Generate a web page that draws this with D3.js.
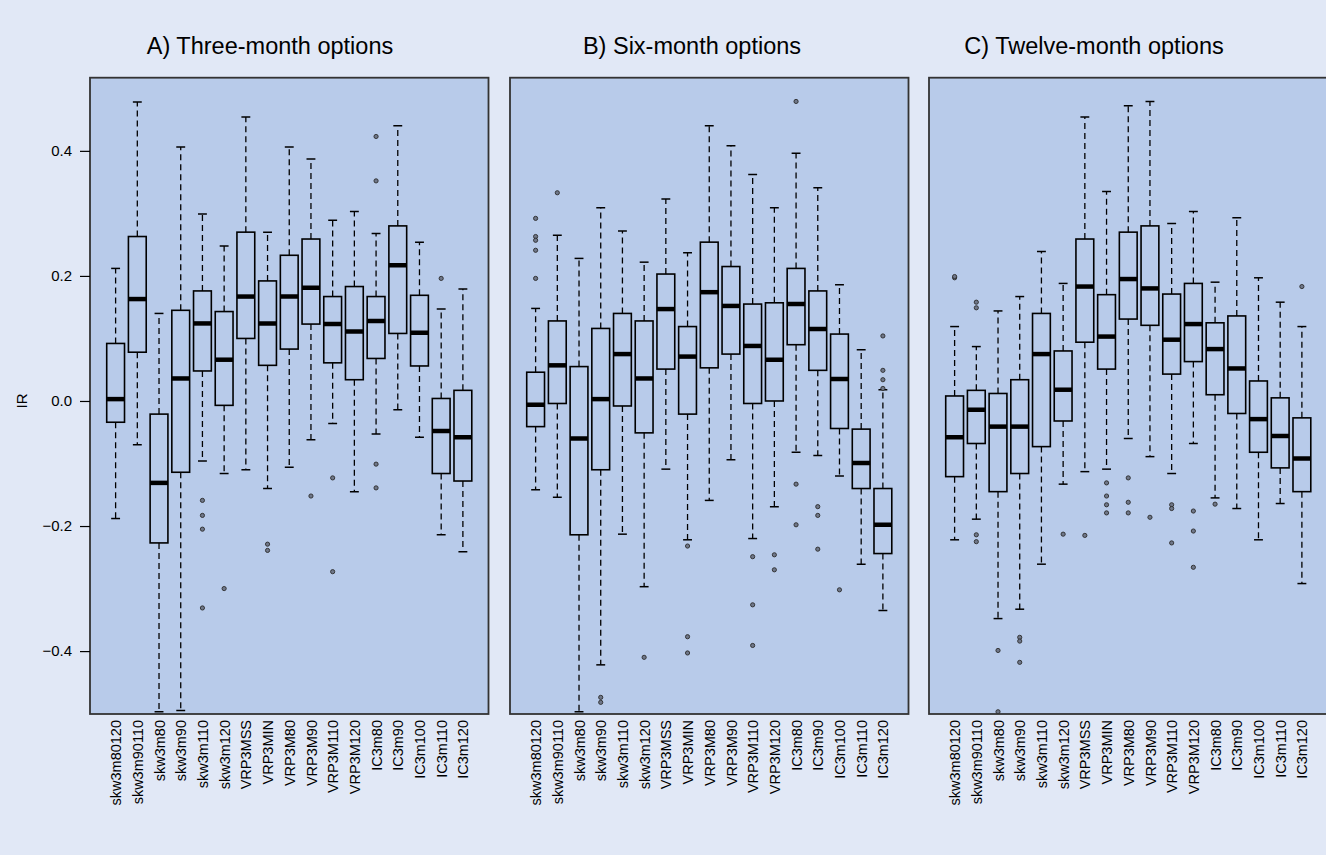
<!DOCTYPE html>
<html>
<head>
<meta charset="utf-8">
<script src="https://cdn.jsdelivr.net/npm/d3@7"></script>
<style>
  html, body { margin: 0; padding: 0; background: #e1e8f6; }
  svg { display: block; }
  text { font-family: "Liberation Sans", Arial, Helvetica, sans-serif; fill: #000; }
</style>
</head>
<body>
<svg id="chart" width="1326" height="855"></svg>
<script>
// Strategy categories shared by all three panels
const categories = ["skw3m80120","skw3m90110","skw3m80","skw3m90","skw3m110","skw3m120",
  "VRP3MSS","VRP3MIN","VRP3M80","VRP3M90","VRP3M110","VRP3M120",
  "IC3m80","IC3m90","IC3m100","IC3m110","IC3m120"];

const panelTitles = ["A) Three-month options", "B) Six-month options", "C) Twelve-month options"];
const yTicks = [-0.4, -0.2, 0.0, 0.2, 0.4];

// Five-number summaries per category: [lower whisker, Q1, median, Q3, upper whisker]
const statsThree = [
  [-0.188, -0.034,  0.003,  0.092, 0.212],
  [-0.070,  0.078,  0.163,  0.263, 0.478],
  [-0.497, -0.227, -0.131, -0.021, 0.140],
  [-0.495, -0.114,  0.036,  0.145, 0.406],
  [-0.096,  0.048,  0.124,  0.176, 0.299],
  [-0.116, -0.007,  0.066,  0.143, 0.248],
  [-0.110,  0.100,  0.167,  0.270, 0.454],
  [-0.140,  0.057,  0.124,  0.192, 0.270],
  [-0.106,  0.083,  0.167,  0.233, 0.406],
  [-0.062,  0.123,  0.181,  0.259, 0.387],
  [-0.036,  0.061,  0.123,  0.167, 0.289],
  [-0.145,  0.034,  0.111,  0.183, 0.303],
  [-0.053,  0.068,  0.128,  0.167, 0.268],
  [-0.014,  0.108,  0.217,  0.280, 0.440],
  [-0.058,  0.056,  0.109,  0.169, 0.254],
  [-0.214, -0.116, -0.048,  0.004, 0.147],
  [-0.241, -0.128, -0.058,  0.017, 0.179]
];
const outliersThree = [
  [], [], [], [],
  [-0.159, -0.183, -0.205, -0.331],
  [-0.300],
  [],
  [-0.229, -0.239],
  [],
  [-0.152],
  [-0.123, -0.273],
  [],
  [0.423, 0.352, -0.101, -0.139],
  [], [],
  [0.196],
  []
];

const statsSix = [
  [-0.142, -0.041, -0.006,  0.046, 0.148],
  [-0.154, -0.004,  0.057,  0.128, 0.265],
  [-0.497, -0.214, -0.060,  0.055, 0.228],
  [-0.422, -0.110,  0.003,  0.116, 0.309],
  [-0.213, -0.008,  0.075,  0.140, 0.272],
  [-0.297, -0.051,  0.036,  0.128, 0.222],
  [-0.109,  0.051,  0.147,  0.203, 0.323],
  [-0.222, -0.021,  0.071,  0.119, 0.237],
  [-0.159,  0.053,  0.174,  0.254, 0.440],
  [-0.094,  0.075,  0.152,  0.215, 0.408],
  [-0.220, -0.004,  0.088,  0.155, 0.362],
  [-0.169,  0.000,  0.066,  0.157, 0.309],
  [-0.082,  0.090,  0.155,  0.212, 0.396],
  [-0.087,  0.049,  0.115,  0.176, 0.341],
  [-0.120, -0.044,  0.035,  0.107, 0.186],
  [-0.261, -0.140, -0.099, -0.045, 0.082],
  [-0.335, -0.244, -0.198, -0.140, 0.018]
];
const outliersSix = [
  [0.292, 0.263, 0.257, 0.241, 0.196],
  [0.333],
  [],
  [-0.474, -0.482],
  [],
  [-0.410],
  [],
  [-0.232, -0.377, -0.403],
  [],
  [],
  [-0.249, -0.326, -0.391],
  [-0.246, -0.270],
  [0.479, -0.133, -0.198],
  [-0.169, -0.183, -0.237],
  [-0.302],
  [],
  [0.104, 0.049, 0.034, 0.020]
];

const statsTwelve = [
  [-0.222, -0.121, -0.058,  0.008, 0.119],
  [-0.189, -0.068, -0.014,  0.017, 0.087],
  [-0.348, -0.145, -0.041,  0.012, 0.144],
  [-0.333, -0.116, -0.041,  0.034, 0.167],
  [-0.261, -0.073,  0.075,  0.140, 0.239],
  [-0.133, -0.032,  0.018,  0.080, 0.188],
  [-0.113,  0.094,  0.183,  0.259, 0.454],
  [-0.109,  0.051,  0.103,  0.170, 0.335],
  [-0.060,  0.131,  0.195,  0.270, 0.472],
  [-0.089,  0.121,  0.180,  0.280, 0.479],
  [-0.116,  0.043,  0.098,  0.171, 0.284],
  [-0.068,  0.063,  0.123,  0.188, 0.303],
  [-0.155,  0.010,  0.083,  0.125, 0.190],
  [-0.172, -0.020,  0.052,  0.136, 0.293],
  [-0.222, -0.082, -0.029,  0.032, 0.197],
  [-0.164, -0.107, -0.056,  0.005, 0.158],
  [-0.292, -0.145, -0.092, -0.027, 0.119]
];
const outliersTwelve = [
  [0.197, 0.199],
  [0.158, 0.149, -0.214, -0.225],
  [-0.399, -0.497],
  [-0.378, -0.384, -0.418],
  [],
  [-0.213],
  [-0.215],
  [-0.131, -0.152, -0.166, -0.179],
  [-0.123, -0.162, -0.179],
  [-0.186],
  [-0.166, -0.172, -0.227],
  [-0.176, -0.208, -0.266],
  [-0.165],
  [], [], [],
  [0.183]
];

const panelStats = [statsThree, statsSix, statsTwelve];
const panelOutliers = [outliersThree, outliersSix, outliersTwelve];

// ---- layout ----
const svg = d3.select("#chart");
const W = 1326, H = 855;
const panelLefts = [90, 510, 929];
const panelWidth = 398.5;
const plotTop = 77.7, plotBottom = 714;
const titleCenters = [270, 692, 1094];
const labelFont = "14.5px";

svg.append("rect").attr("width", W).attr("height", H).attr("fill", "#e1e8f6");

const y = d3.scaleLinear().domain([-0.5006, 0.517]).range([plotBottom, plotTop]);

panelStats.forEach((stats, p) => {
  const x0 = panelLefts[p], x1 = x0 + panelWidth;
  const x = d3.scalePoint().domain(categories).range([x0, x1]).padding(1.18);
  const step = x.step();
  const boxW = step * 0.82;
  const capW = boxW * 0.5;

  const g = svg.append("g");

  // plotting region
  g.append("rect")
    .attr("x", x0).attr("y", plotTop)
    .attr("width", panelWidth).attr("height", plotBottom - plotTop)
    .attr("fill", "#b8cbea");

  g.append("clipPath").attr("id", "clip" + p)
    .append("rect")
    .attr("x", x0).attr("y", plotTop)
    .attr("width", panelWidth).attr("height", plotBottom - plotTop);

  const marks = g.append("g").attr("clip-path", `url(#clip${p})`);

  const box = marks.selectAll("g.box").data(stats).join("g").attr("class", "box")
    .attr("transform", (d, i) => `translate(${x(categories[i])},0)`);

  // dashed whiskers
  box.append("line")
    .attr("x1", 0).attr("x2", 0)
    .attr("y1", d => y(d[3])).attr("y2", d => y(d[4]))
    .attr("stroke", "#000").attr("stroke-width", 1.3).attr("stroke-dasharray", "6,4");
  box.append("line")
    .attr("x1", 0).attr("x2", 0)
    .attr("y1", d => y(d[1])).attr("y2", d => y(d[0]))
    .attr("stroke", "#000").attr("stroke-width", 1.3).attr("stroke-dasharray", "6,4");
  // staples
  [0, 4].forEach(k => {
    box.append("line")
      .attr("x1", -capW / 2).attr("x2", capW / 2)
      .attr("y1", d => y(d[k])).attr("y2", d => y(d[k]))
      .attr("stroke", "#000").attr("stroke-width", 1.5);
  });
  // boxes
  box.append("rect")
    .attr("x", -boxW / 2).attr("width", boxW)
    .attr("y", d => y(d[3])).attr("height", d => y(d[1]) - y(d[3]))
    .attr("fill", "none").attr("stroke", "#000").attr("stroke-width", 1.6);
  // medians
  box.append("line")
    .attr("x1", -boxW / 2).attr("x2", boxW / 2)
    .attr("y1", d => y(d[2])).attr("y2", d => y(d[2]))
    .attr("stroke", "#000").attr("stroke-width", 4.5);

  // outlying points
  const pts = [];
  panelOutliers[p].forEach((vals, i) => vals.forEach(v => pts.push({ c: categories[i], v })));
  marks.selectAll("circle.out").data(pts).join("circle").attr("class", "out")
    .attr("cx", d => x(d.c)).attr("cy", d => y(d.v)).attr("r", 2.1)
    .attr("fill", "#6f7789").attr("stroke", "#2b2b2b").attr("stroke-width", 0.9);

  // frame
  g.append("rect")
    .attr("x", x0).attr("y", plotTop)
    .attr("width", panelWidth).attr("height", plotBottom - plotTop)
    .attr("fill", "none").attr("stroke", "#333").attr("stroke-width", 1.8);

  // category axis
  const xa = g.append("g").attr("transform", `translate(0,${plotBottom})`)
    .call(d3.axisBottom(x).tickSize(0).tickSizeOuter(0));
  xa.select(".domain").remove();
  xa.selectAll(".tick text")
    .attr("transform", "rotate(-90)")
    .attr("x", -6).attr("y", 0).attr("dy", "0.35em")
    .attr("text-anchor", "end")
    .style("font-size", labelFont)
    .style("font-family", "'Liberation Sans', Arial, Helvetica, sans-serif")
    .attr("fill", "#000");

  // title
  svg.append("text")
    .attr("x", titleCenters[p]).attr("y", 54)
    .attr("text-anchor", "middle")
    .style("font-size", "23.5px")
    .text(panelTitles[p]);

  if (p === 0) {
    const ya = g.append("g").attr("transform", `translate(${x0},0)`)
      .call(d3.axisLeft(y).tickValues(yTicks).tickSize(10).tickPadding(8)
        .tickFormat(d3.format(".1f")));
    ya.select(".domain").remove();
    ya.selectAll(".tick line").attr("stroke", "#000").attr("stroke-width", 1.2);
    ya.selectAll(".tick text")
      .style("font-size", "15px")
      .style("font-family", "'Liberation Sans', Arial, Helvetica, sans-serif")
      .attr("fill", "#000");

    svg.append("text")
      .attr("transform", `translate(22,${y(0)}) rotate(-90)`)
      .attr("text-anchor", "middle")
      .attr("dy", "0.35em")
      .style("font-size", "15px")
      .text("IR");
  }
});
</script>
</body>
</html>
